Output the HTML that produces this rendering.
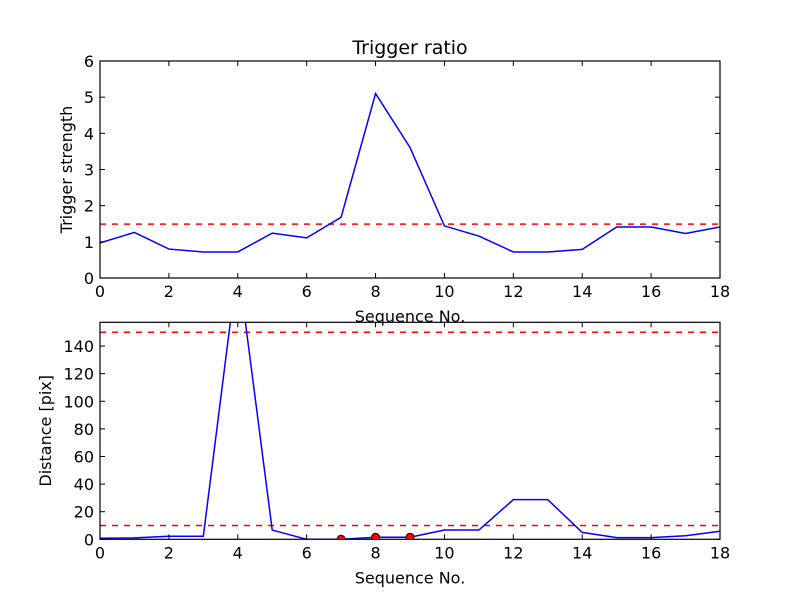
<!DOCTYPE html>
<html><head><meta charset="utf-8"><style>
html,body{margin:0;padding:0;background:#fff;}
svg{display:block;font-family:"DejaVu Sans","Liberation Sans",sans-serif;}
</style></head><body>
<svg id="chart" width="800" height="600" viewBox="0 0 800 600" xmlns="http://www.w3.org/2000/svg">
<rect width="800" height="600" fill="#fff"/>
</svg>
<script>
const seqX = [0,1,2,3,4,5,6,7,8,9,10,11,12,13,14,15,16,17,18];
const strength = [0.97,1.26,0.8,0.72,0.72,1.24,1.11,1.68,5.1,3.61,1.44,1.16,0.72,0.72,0.79,1.41,1.41,1.23,1.41];
const strengthThreshold = [1.49];
const distance = [0.8,1,2.2,2.2,200,6.7,0,0,1.5,1.5,6.7,6.7,28.7,28.7,5,1.2,1.2,2.6,5.8];
const distanceThresholds = [150,10];
const markerX = [7,8,9];
const markerY = [0,1.5,1.5];
const xTicks = [0,2,4,6,8,10,12,14,16,18];
const topYTicks = [0,1,2,3,4,5,6];
const botYTicks = [0,20,40,60,80,100,120,140];

const NS = "http://www.w3.org/2000/svg";
const svg = document.getElementById('chart');
function mk(tag, attrs, parent){
  const e = document.createElementNS(NS, tag);
  for (const k in attrs) e.setAttribute(k, attrs[k]);
  (parent||svg).appendChild(e);
  return e;
}
const L=100, R=720;
const xs = v => L + (v-0)/(18-0)*(R-L);

function panel(key, top, bot, ymax, yTicks, ys, values, thresholds, yTitle, title){
  const yScale = v => bot - v/ymax*(bot-top);
  const g = mk('g', {});
  
  
  const cpId = 'clip-'+key;
  const cp = mk('clipPath', {id: cpId}, g);
  mk('rect', {x:L, y:top, width:R-L, height:bot-top}, cp);
  thresholds.forEach((t,i)=>{
    const ln = mk('line', {x1:L, x2:R, y1:yScale(t), y2:yScale(t), stroke:'#ff0000', 'stroke-width':1.5, 'stroke-dasharray':'6,6', 'clip-path':'url(#'+cpId+')'}, g);
    
    
  });
  const pts = values.map((v,i)=>xs(seqX[i]).toFixed(2)+','+yScale(v).toFixed(2)).join(' ');
  const pl = mk('polyline', {points:pts, fill:'none', stroke:'#0000ff', 'stroke-width':1.5, 'clip-path':'url(#'+cpId+')'}, g);
  
  
  const fr = mk('rect', {x:L, y:top, width:R-L, height:bot-top, fill:'none', stroke:'#000', 'stroke-width':1.2}, g);
  
  
  xTicks.forEach(t=>{
    const x = xs(t);
    mk('line', {x1:x, x2:x, y1:bot, y2:bot-5, stroke:'#000'}, g);
    mk('line', {x1:x, x2:x, y1:top, y2:top+5, stroke:'#000'}, g);
    const tx = mk('text', {x:x, y:bot+19, 'text-anchor':'middle', 'font-size':16}, g);
    tx.textContent = t;
    
    
  });
  yTicks.forEach(t=>{
    const y = yScale(t);
    mk('line', {x1:L, x2:L+5, y1:y, y2:y, stroke:'#000'}, g);
    mk('line', {x1:R, x2:R-5, y1:y, y2:y, stroke:'#000'}, g);
    const tx = mk('text', {x:L-6, y:y+6, 'text-anchor':'end', 'font-size':16}, g);
    tx.textContent = t;
    
    
  });
  const xt = mk('text', {x:(L+R)/2, y:bot+44, 'text-anchor':'middle', 'font-size':16}, g);
  xt.textContent = 'Sequence No.';
  
  
  const ytx = ys, yty = (top+bot)/2;
  const yt = mk('text', {x:ytx, y:yty, 'text-anchor':'middle', 'font-size':16, transform:'rotate(-90 '+ytx+' '+yty+')'}, g);
  yt.textContent = yTitle;
  
  
  if (title){
    const tt = mk('text', {x:(L+R)/2, y:top-7, 'text-anchor':'middle', 'font-size':19}, g);
    tt.textContent = title;
    
    
  }
  return {g, yScale, cpId};
}

panel('top', 61, 278, 6, topYTicks, 72, strength, strengthThreshold, 'Trigger strength', 'Trigger ratio');
const b = panel('bottom', 322.3, 539.3, 157.2, botYTicks, 51, distance, distanceThresholds, 'Distance [pix]', null);
markerX.forEach((mx,i)=>{
  const c = mk('circle', {cx:xs(mx), cy:b.yScale(markerY[i]), r:4, fill:'#ff0000', stroke:'#000', 'stroke-width':1, 'clip-path':'url(#'+b.cpId+')'}, b.g);
  
  
});
</script>
</body></html>
